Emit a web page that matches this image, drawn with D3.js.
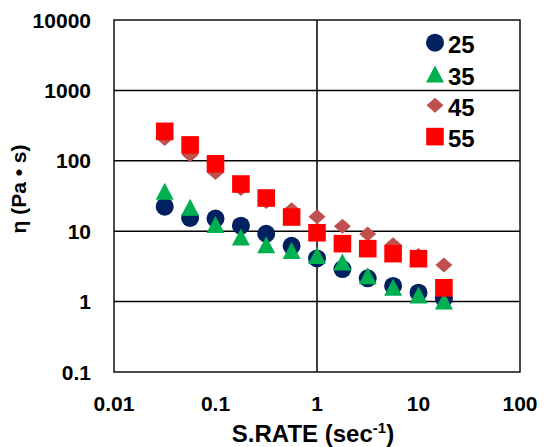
<!DOCTYPE html>
<html>
<head>
<meta charset="utf-8">
<script src="https://cdn.jsdelivr.net/npm/d3@7"></script>
<style>
  body { margin: 0; background: #fff; }
</style>
</head>
<body>
<svg id="chart"></svg>
<script>
// shear rate (sec-1)
const rates = [0.0316, 0.0562, 0.1, 0.178, 0.316, 0.562, 1, 1.78, 3.16, 5.62, 10, 17.8];
const eta25 = [22.3, 15.4, 15.1, 12, 9.2, 6.2, 4.1, 2.9, 2.14, 1.67, 1.34, 1.11];
const eta35 = [37, 21.8, 12.4, 8.3, 6.4, 5.3, 4.5, 3.66, 2.33, 1.6, 1.24, 1.02];
const eta45 = [207, 122, 68, 40.4, 26.4, 20.1, 16.1, 11.8, 9.1, 6.4, 4.5, 3.3];
const eta55 = [262, 168, 90.6, 46.8, 29.6, 15.9, 9.5, 6.65, 5.65, 4.8, 4.07, 1.57];
const seriesNames = ["25", "35", "45", "55"];
const xTicks = [0.01, 0.1, 1, 10, 100];
const yTicks = [0.1, 1, 10, 100, 1000, 10000];

const font = "'Liberation Sans', Arial, sans-serif";
const w = 544, h = 447;
const svg = d3.select("#chart").attr("width", w).attr("height", h)
              .attr("font-family", font)
              .attr("font-weight", "bold");

const x = d3.scaleLog().domain([0.01, 100]).range([114, 520]);
const y = d3.scaleLog().domain([0.1, 10000]).range([372, 20]);

// marker shapes
const shapes = {
  circle: "M9,0A9,9 0 1,1 -9,0A9,9 0 1,1 9,0Z",
  triangle: "M0,-8.5L9,8.5L-9,8.5Z",
  diamond: "M0,-7.5L8.5,0L0,7.5L-8.5,0Z",
  square: "M-8.8,-8.8H8.8V8.8H-8.8Z"
};

const series = [
  {name: seriesNames[0], values: eta25, color: "#002060", shape: "circle"},
  {name: seriesNames[1], values: eta35, color: "#00b050", shape: "triangle"},
  {name: seriesNames[2], values: eta45, color: "#c0504d", shape: "diamond"},
  {name: seriesNames[3], values: eta55, color: "#ff0000", shape: "square"}
];

// gridlines
svg.append("g")
   .selectAll("line")
   .data(yTicks.slice(1, -1))
   .enter()
   .append("line")
   .attr("x1", x(0.01)).attr("x2", x(100))
   .attr("y1", d => y(d)).attr("y2", d => y(d))
   .attr("stroke", "#000")
   .attr("stroke-width", 1.5);

svg.append("line")
   .attr("x1", x(1)).attr("x2", x(1))
   .attr("y1", y(10000)).attr("y2", y(0.1))
   .attr("stroke", "#000")
   .attr("stroke-width", 1.5);

// frame
svg.append("rect")
   .attr("x", x(0.01)).attr("y", y(10000))
   .attr("width", x(100) - x(0.01))
   .attr("height", y(0.1) - y(10000))
   .attr("fill", "none")
   .attr("stroke", "#111")
   .attr("stroke-width", 1.5);

// points
series.forEach(s => {
  svg.append("g")
     .selectAll("path")
     .data(rates.map((r, i) => [r, s.values[i]]))
     .enter()
     .append("path")
     .attr("d", shapes[s.shape])
     .attr("transform", d => "translate(" + x(d[0]) + "," + y(d[1]) + ")")
     .attr("fill", s.color);
});

// tick labels
svg.append("g")
   .selectAll("text")
   .data(yTicks)
   .enter()
   .append("text")
   .attr("x", 91)
   .attr("y", d => y(d) + 7.5)
   .attr("text-anchor", "end")
   .attr("font-size", 21)
   .text(d => d);

svg.append("g")
   .selectAll("text")
   .data(xTicks)
   .enter()
   .append("text")
   .attr("x", d => x(d))
   .attr("y", 411)
   .attr("text-anchor", "middle")
   .attr("font-size", 21)
   .text(d => d);

// axis titles
const xt = svg.append("text")
   .attr("x", 313)
   .attr("y", 442)
   .attr("text-anchor", "middle")
   .attr("font-size", 24);
xt.append("tspan").text("S.RATE (sec");
xt.append("tspan").attr("dy", -9).attr("font-size", 15).text("-1");
xt.append("tspan").attr("dy", 9).text(")");

svg.append("text")
   .attr("transform", "translate(26,189) rotate(-90)")
   .attr("text-anchor", "middle")
   .attr("font-size", 21)
   .text("η (Pa • s)");

// legend
const legend = svg.append("g")
   .selectAll("g")
   .data(series)
   .enter()
   .append("g")
   .attr("transform", (d, i) => "translate(435," + (42.7 + i * 31.3) + ")");

legend.append("path")
   .attr("d", d => shapes[d.shape])
   .attr("fill", d => d.color);

legend.append("text")
   .attr("x", 13)
   .attr("y", 10.5)
   .attr("font-size", 24)
   .text(d => d.name);
</script>
</body>
</html>
